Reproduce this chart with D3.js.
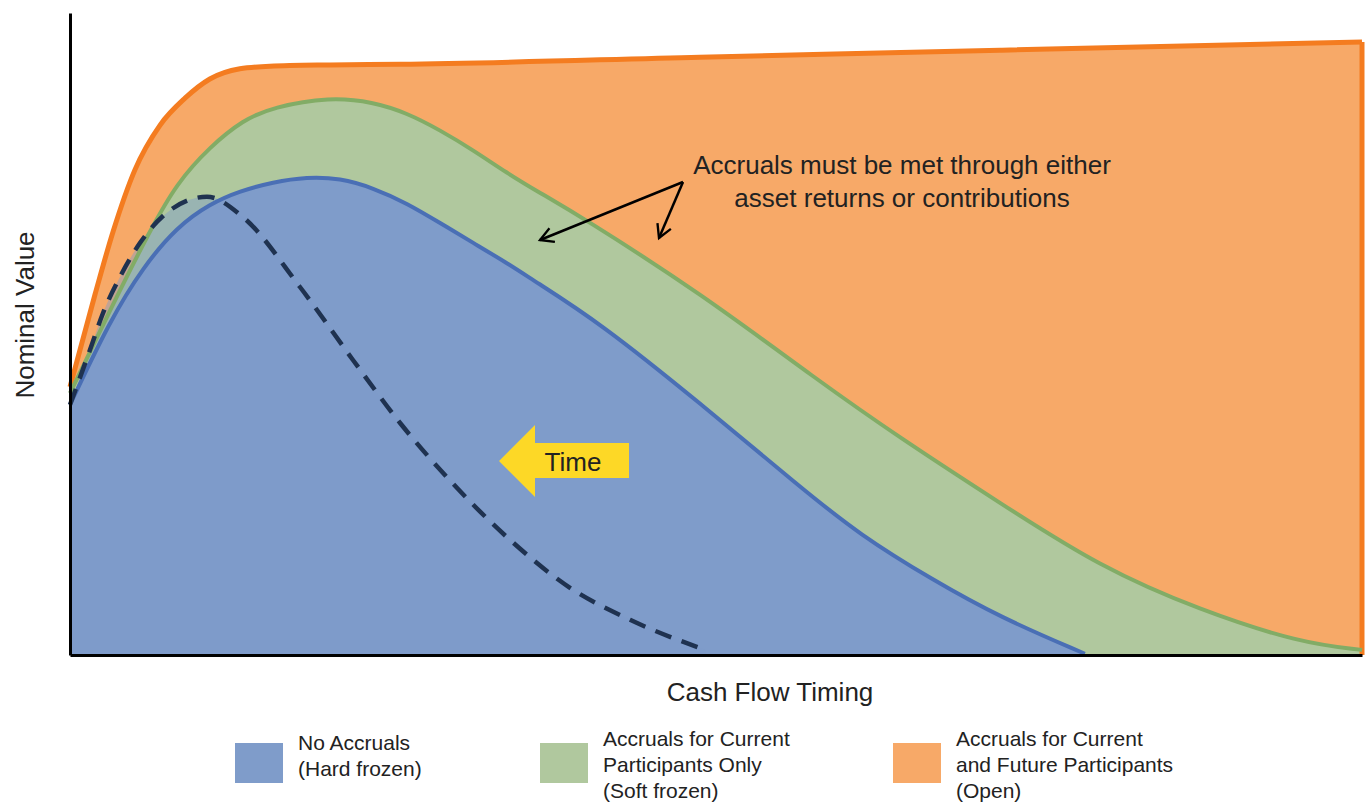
<!DOCTYPE html>
<html>
<head>
<meta charset="utf-8">
<script src="https://cdn.jsdelivr.net/npm/d3@7"></script>
<style>
  body { margin: 0; background: #fff; }
  text { font-family: "Liberation Sans", Arial, sans-serif; fill: #222; }
</style>
</head>
<body>
<svg id="chart" width="1372" height="804"></svg>
<script>
// cash flow timing (x) vs nominal value (y)
let openX    = [0, 0.77, 1.33, 2.01, 2.79, 3.56, 4.33, 5.26, 6.19, 8.05, 10.22, 19.5, 28.79, 40];
let openY    = [41.9, 56.25, 66.1, 75.8, 82.8, 87.0, 90.0, 91.6, 92.0, 92.2, 92.3, 93.4, 94.5, 95.8];
let softX    = [0, 1.24, 2.48, 3.31, 4.33, 5.36, 6.28, 8.05, 9.38, 10.43, 11.46, 12.48, 13.53, 14.55, 15.79, 19.5, 23.13, 25.7, 28.79, 31.89, 34.98, 38.08, 40];
let softY    = [40.9, 53.9, 66.4, 73.75, 79.4, 83.6, 85.6, 87.2, 86.4, 84.7, 82.0, 78.9, 75.3, 72.2, 68.6, 56.6, 43.0, 33.9, 23.75, 13.75, 7.0, 1.9, 0.8];
let hardX    = [0, 1.24, 2.26, 3.31, 4.33, 5.26, 6.28, 7.34, 8.36, 9.38, 10.43, 11.46, 12.48, 13.53, 14.33, 16.41, 19.5, 22.6, 24.46, 26.72, 28.79, 31.42];
let hardY    = [39.1, 52.3, 60.6, 66.9, 70.5, 72.5, 73.9, 74.7, 74.5, 73.0, 70.6, 67.5, 64.4, 61.25, 58.6, 51.9, 39.4, 26.25, 18.75, 11.7, 5.9, 0.2];
let futureX  = [0, 0.62, 1.02, 1.55, 2.17, 3.1, 4.24, 5.36, 7.12, 8.76, 10.22, 11.76, 13.62, 15.48, 17.34, 19.66];
let futureY  = [39.1, 47.7, 53.4, 59.1, 64.4, 69.5, 71.6, 68.4, 57.5, 46.1, 36.25, 27.3, 18.0, 10.5, 5.5, 0.8];

let legendLabels = [
  ["No Accruals", "(Hard frozen)"],
  ["Accruals for Current", "Participants Only", "(Soft frozen)"],
  ["Accruals for Current", "and Future Participants", "(Open)"]
];
let noteLines = ["Accruals must be met through either", "asset returns or contributions"];

let blueFill = "#7f9cca", blueLine = "#4a6fb5";
let greenFill = "#b0c89e", greenLine = "#82ac66";
let orangeFill = "#f7a968", orangeLine = "#f47c20";
let dashColor = "#1f3250";

let svg = d3.select("#chart");
let plotLeft = 70, plotRight = 1362, plotTop = 13, plotBottom = 655;

let x = d3.scaleLinear().domain([0, 40]).range([plotLeft, plotRight]);
let y = d3.scaleLinear().domain([0, 100]).range([plotBottom, 15]);

function pts(xs, ys) { return xs.map((d, i) => [d, ys[i]]); }
let openPts = pts(openX, openY);
let softPts = pts(softX, softY);
let hardPts = pts(hardX, hardY);
let futurePts = pts(futureX, futureY);

function makeArea(curve) {
  return d3.area().x(d => x(d[0])).y0(y(0)).y1(d => y(d[1])).curve(curve);
}
function makeLine(curve) {
  return d3.line().x(d => x(d[0])).y(d => y(d[1])).curve(curve);
}
let sharp = d3.curveMonotoneX, smooth = d3.curveBasis;

// filled areas, back to front
svg.append("path").attr("d", makeArea(sharp)(openPts)).attr("fill", orangeFill);
svg.append("path").attr("d", makeArea(smooth)(softPts)).attr("fill", greenFill);
svg.append("path").attr("d", makeArea(smooth)(hardPts)).attr("fill", blueFill);
svg.append("path").attr("d", makeArea(sharp)(futurePts)).attr("fill", "#7f9cca").attr("opacity", 0.45);

// outlines
svg.append("path").attr("d", makeLine(sharp)(openPts))
  .attr("fill", "none").attr("stroke", orangeLine).attr("stroke-width", 5);
svg.append("line")
  .attr("x1", x(40)).attr("x2", x(40))
  .attr("y1", y(openY[openY.length - 1])).attr("y2", y(0))
  .attr("stroke", orangeLine).attr("stroke-width", 5);
svg.append("path").attr("d", makeLine(smooth)(softPts))
  .attr("fill", "none").attr("stroke", greenLine).attr("stroke-width", 4);
svg.append("path").attr("d", makeLine(smooth)(hardPts))
  .attr("fill", "none").attr("stroke", blueLine).attr("stroke-width", 4);
svg.append("path").attr("d", makeLine(sharp)(futurePts))
  .attr("fill", "none").attr("stroke", dashColor).attr("stroke-width", 4.5)
  .attr("stroke-dasharray", "17,11");

// axes without ticks
let yAxis = d3.scaleLinear().domain([0, 1]).range([plotBottom, plotTop]);
svg.append("g")
  .attr("transform", "translate(" + plotLeft + ",0)")
  .call(d3.axisLeft(yAxis).tickValues([]).tickSizeOuter(0))
  .select(".domain").attr("stroke", "#000").attr("stroke-width", 3);
svg.append("g")
  .attr("transform", "translate(0," + plotBottom + ")")
  .call(d3.axisBottom(x).tickValues([]).tickSizeOuter(0))
  .select(".domain").attr("stroke", "#000").attr("stroke-width", 3);

svg.append("text")
  .attr("transform", "translate(34," + 315 + ") rotate(-90)")
  .attr("text-anchor", "middle")
  .style("font-size", "26px")
  .text("Nominal Value");
svg.append("text")
  .attr("x", 770).attr("y", 701)
  .attr("text-anchor", "middle")
  .style("font-size", "26px")
  .text("Cash Flow Timing");

// annotation
svg.selectAll(".note")
  .data(noteLines).enter()
  .append("text")
  .attr("x", 902).attr("y", (d, i) => 174 + i * 33)
  .attr("text-anchor", "middle")
  .style("font-size", "26px")
  .text(d => d);

svg.append("defs").append("marker")
  .attr("id", "head").attr("viewBox", "0 0 12 12")
  .attr("refX", 10).attr("refY", 6)
  .attr("markerWidth", 7).attr("markerHeight", 7)
  .attr("orient", "auto")
  .append("path").attr("d", "M1,1 L10,6 L1,11")
  .attr("fill", "none").attr("stroke", "#000").attr("stroke-width", 1.6);
[[540, 240], [659, 238]].forEach(tip => {
  svg.append("line")
    .attr("x1", 683).attr("y1", 182)
    .attr("x2", tip[0]).attr("y2", tip[1])
    .attr("stroke", "#000").attr("stroke-width", 2.5)
    .attr("marker-end", "url(#head)");
});

// time arrow
svg.append("path")
  .attr("d", "M499,461 L535,425 L535,443 L629,443 L629,478 L535,478 L535,497 Z")
  .attr("fill", "#fdd826");
svg.append("text")
  .attr("x", 573).attr("y", 471)
  .attr("text-anchor", "middle")
  .style("font-size", "26px")
  .text("Time");

// legend
let legendX = [235, 540, 893];
let legendColors = [blueFill, greenFill, orangeFill];
legendLabels.forEach((lines, i) => {
  let g = svg.append("g").attr("transform", "translate(" + legendX[i] + ",743)");
  g.append("rect").attr("width", 48).attr("height", 40).attr("fill", legendColors[i]);
  g.selectAll("text")
    .data(lines).enter()
    .append("text")
    .attr("x", 63)
    .attr("y", (d, j) => (lines.length == 2 ? 7 : 3) + j * 26)
    .style("font-size", "21px")
    .text(d => d);
});
</script>
</body>
</html>
